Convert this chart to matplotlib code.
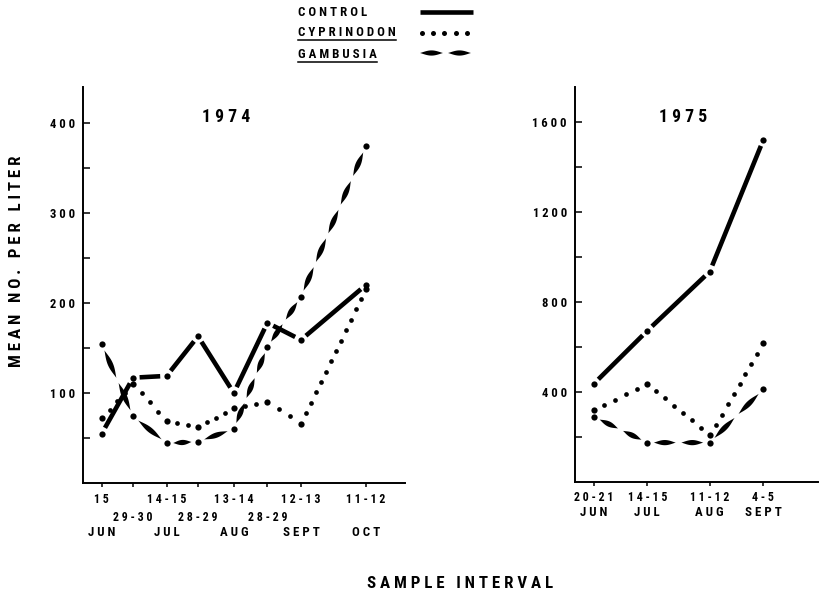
import matplotlib
matplotlib.use("Agg")
import matplotlib.pyplot as plt
import matplotlib.dates as mdates
from matplotlib import font_manager
from matplotlib.patches import Polygon
import numpy as np

# ---- 1974 sampling ----
dates_1974 = ['1974-06-15', '1974-06-29', '1974-07-14', '1974-07-28',
              '1974-08-13', '1974-08-28', '1974-09-12', '1974-10-11']
day_labels_1974 = ['15', '29-30', '14-15', '28-29', '13-14', '28-29', '12-13', '11-12']
month_labels_1974 = ['JUN', '', 'JUL', '', 'AUG', '', 'SEPT', 'OCT']
staggered_1974 = [False, True, False, True, False, True, False, False]
control_1974 = [55, 117, 119, 163, 100, 178, 159, 220]
cyprinodon_1974 = [72, 110, 69, 62, 83, 90, 66, 216]
gambusia_1974 = [154, 74, 44, 46, 60, 151, 207, 374]

# ---- 1975 sampling ----
dates_1975 = ['1975-06-20', '1975-07-14', '1975-08-11', '1975-09-04']
day_labels_1975 = ['20-21', '14-15', '11-12', '4-5']
month_labels_1975 = ['JUN', 'JUL', 'AUG', 'SEPT']
control_1975 = [436, 672, 935, 1520]
cyprinodon_1975 = [320, 436, 209, 616]
gambusia_1975 = [290, 175, 175, 412]

yticks_1974 = [100, 200, 300, 400]
yminor_1974 = [50, 150, 250, 350]
yticks_1975 = [400, 800, 1200, 1600]
yminor_1975 = [200, 600, 1000, 1400]

# Condensed lettering when available, otherwise the regular face at normal size
installed = {f.name for f in font_manager.fontManager.ttflist}
if 'Roboto Condensed' in installed:
    FAMILY, FS = ['Roboto Condensed', 'DejaVu Sans'], 1.16
else:
    FAMILY, FS = ['Liberation Sans', 'DejaVu Sans'], 1.0
plt.rcParams['font.family'] = FAMILY
plt.rcParams['font.weight'] = 'bold'

W, H = 820, 596
fig = plt.figure(figsize=(W / 100, H / 100), dpi=100)
fig.patch.set_facecolor('white')


def spaced(s):
    """Letter-spaced lettering: single spaces between letters, wide gaps between words."""
    return '   '.join(' '.join(w) for w in s.split(' '))


def px(x, y):
    """Pixel position (from top-left) to figure fraction."""
    return x / W, 1 - y / H


def lens_vertices(p0, p1, width, n=28):
    """Outline of a pointed, lens-shaped dash between two display points."""
    p0 = np.asarray(p0, float)
    p1 = np.asarray(p1, float)
    d = p1 - p0
    L = np.hypot(*d)
    u = d / L
    nrm = np.array([-u[1], u[0]])
    t = np.linspace(0, 1, n)
    hw = 0.5 * width * np.sin(np.pi * t) ** 1.15
    centers = p0 + np.outer(t, d)
    top = centers + np.outer(hw, nrm)
    bot = (centers - np.outer(hw, nrm))[::-1]
    return np.vstack([top, bot])


def segments_display(ax, x, y):
    pts = ax.transData.transform(np.column_stack([x, y]))
    return list(zip(pts[:-1], pts[1:]))


GAP = 6.5  # pixel clearance around each sample dot


def draw_solid(ax, x, y, lw=3.3):
    inv = ax.transData.inverted()
    for a, b in segments_display(ax, x, y):
        d = b - a
        L = np.hypot(*d)
        u = d / L
        s, e = inv.transform([a + u * GAP, b - u * GAP])
        ax.plot([s[0], e[0]], [s[1], e[1]], color='black', lw=lw,
                solid_capstyle='butt', zorder=3)


def draw_dotted(ax, x, y, spacing=11.5, ms=3.4):
    inv = ax.transData.inverted()
    for a, b in segments_display(ax, x, y):
        d = b - a
        L = np.hypot(*d)
        n = max(1, int(round(L / spacing)))
        t = np.arange(1, n) / n
        if len(t) == 0:
            continue
        pts = inv.transform(a + np.outer(t, d))
        ax.plot(pts[:, 0], pts[:, 1], 'o', color='black', ms=ms, mew=0, zorder=3)


def draw_lens_dashes(ax, x, y, dash=23.0, space=5.5, width=5.2):
    inv = ax.transData.inverted()
    period = dash + space
    for a, b in segments_display(ax, x, y):
        d = b - a
        L = np.hypot(*d)
        u = d / L
        usable = L - 2 * GAP
        n = max(1, int(round((usable + space) / period)))
        dl = (usable - (n - 1) * space) / n
        for k in range(n):
            s0 = GAP + k * (dl + space)
            verts = lens_vertices(a + u * s0, a + u * (s0 + dl), width)
            ax.add_patch(Polygon(inv.transform(verts), closed=True,
                                 facecolor='black', edgecolor='none', zorder=3))


def style_axes(ax, yt, ymin_t):
    for side in ('top', 'right'):
        ax.spines[side].set_visible(False)
    for side in ('left', 'bottom'):
        ax.spines[side].set_linewidth(1.4)
    ax.set_yticks(yt)
    ax.set_yticklabels([spaced(str(v)) for v in yt], fontsize=7.8 * FS,
                       fontweight='bold')
    ax.set_yticks(ymin_t, minor=True)
    ax.tick_params(axis='y', which='both', direction='in', length=5, width=1.1, pad=5.8)
    ax.tick_params(axis='x', which='both', direction='out', length=3, width=1.1)
    ax.patch.set_alpha(0)


def draw_panel(ax, dates, control, cyp, gam, day_labels, months, stagger,
               row_offsets, year):
    x = mdates.datestr2num(dates)
    ax.set_xticks(x)
    ax.set_xticklabels([''] * len(x))
    draw_solid(ax, x, control)
    draw_dotted(ax, x, cyp)
    draw_lens_dashes(ax, x, gam)
    for series in (control, cyp, gam):
        ax.plot(x, series, 'o', color='black', ms=4.5, mew=0, zorder=4)
    r1, r2, r3 = row_offsets
    for xi, dl, mo, st in zip(x, day_labels, months, stagger):
        ax.annotate(spaced(dl), xy=(xi, 0), xycoords=('data', 'axes fraction'),
                    xytext=(0, -(r2 if st else r1)), textcoords='offset points',
                    ha='center', va='center', fontsize=7.4 * FS, fontweight='bold',
                    annotation_clip=False)
        if mo:
            ax.annotate(spaced(mo), xy=(xi, 0), xycoords=('data', 'axes fraction'),
                        xytext=(0, -r3), textcoords='offset points',
                        ha='center', va='center', fontsize=8 * FS, fontweight='bold',
                        annotation_clip=False)
    ax.text(0.444, 0.924, spaced(year), transform=ax.transAxes, ha='center',
            va='center', fontsize=11 * FS, fontweight='bold')


# Left panel (1974): axis box spans pixels x 83..405, y 87..483
ax1 = fig.add_axes([83 / W, (H - 483) / H, (405 - 83) / W, (483 - 87) / H])
x74 = mdates.datestr2num(dates_1974)
ax1.set_xlim(x74[0] - 8.4, x74[-1] + 17.5)
ax1.set_ylim(0, 440)
style_axes(ax1, yticks_1974, yminor_1974)
draw_panel(ax1, dates_1974, control_1974, cyprinodon_1974, gambusia_1974,
           day_labels_1974, month_labels_1974, staggered_1974,
           (12.2, 24.5, 36.0), '1974')

# Right panel (1975): axis box spans pixels x 575..818, y 87..482
ax2 = fig.add_axes([575 / W, (H - 482) / H, (818 - 575) / W, (482 - 87) / H])
x75 = mdates.datestr2num(dates_1975)
ax2.set_xlim(x75[0] - 8.4, x75[-1] + 24.5)
ax2.set_ylim(0, 1755)
style_axes(ax2, yticks_1975, yminor_1975)
draw_panel(ax2, dates_1975, control_1975, cyprinodon_1975, gambusia_1975,
           day_labels_1975, month_labels_1975, [False] * 4,
           (11.5, 11.5, 21.6), '1975')

# Axis titles
fig.text(*px(17, 261), spaced('MEAN NO. PER LITER'), rotation=90, ha='center',
         va='center', fontsize=10.5 * FS, fontweight='bold')
fig.text(*px(460, 583), spaced('SAMPLE INTERVAL'), ha='center', va='center',
         fontsize=10.5 * FS, fontweight='bold')

# Legend
legend_names = ['CONTROL', 'CYPRINODON', 'GAMBUSIA']
legend_rows = [13, 33, 55]
renderer = fig.canvas.get_renderer()
for name, yr in zip(legend_names, legend_rows):
    t = fig.text(*px(298, yr), spaced(name), ha='left', va='center',
                 fontsize=8 * FS, fontweight='bold')
    if name != 'CONTROL':
        bb = t.get_window_extent(renderer)
        yl = bb.y0 - 0.5
        fig.add_artist(plt.Line2D([bb.x0 / W, bb.x1 / W], [yl / H, yl / H],
                                  color='black', lw=1.1))

# Legend samples
fig.add_artist(plt.Line2D([420 / W, 473 / W], [1 - 12 / H, 1 - 12 / H],
                          color='black', lw=3.3, solid_capstyle='butt'))
for xd in np.linspace(422, 467, 5):
    fig.add_artist(plt.Line2D([xd / W], [1 - 33 / H], marker='o', ms=3.6,
                              mew=0, color='black', linestyle='none'))
inv_fig = fig.transFigure.inverted()
for xa, xb in [(420, 443), (448, 471)]:
    verts = lens_vertices((xa, H - 53), (xb, H - 53), 5.2)
    fig.add_artist(Polygon(inv_fig.transform(verts), closed=True,
                           facecolor='black', edgecolor='none',
                           transform=fig.transFigure))

fig.savefig('out.png', dpi=100, facecolor='white')
